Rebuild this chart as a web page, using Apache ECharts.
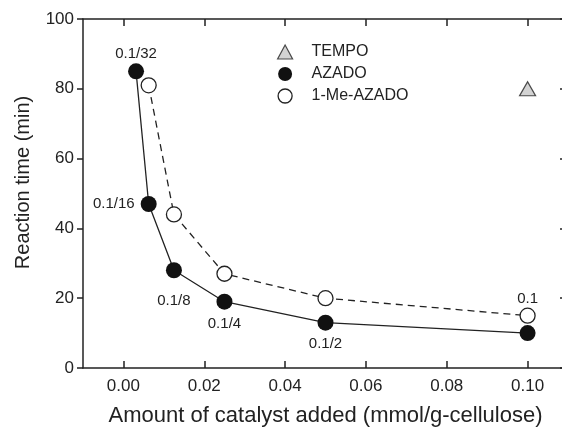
<!DOCTYPE html>
<html lang="en">
<head>
    <meta charset="UTF-8">
    <script src="https://cdn.jsdelivr.net/npm/echarts@6/dist/echarts.min.js"></script>
    <style>
        body { margin: 0; background: #fff; }
        #chart { width: 562px; height: 427px; }
    </style>
</head>
<body>
    <div id="chart"></div>
    <script>
        // data
        const azadoX = [0.003125, 0.00625, 0.0125, 0.025, 0.05, 0.1];
        const azadoY = [85, 47, 28, 19, 13, 10];
        const azadoLabels = ['0.1/32', '0.1/16', '0.1/8', '0.1/4', '0.1/2', ''];

        const meAzadoX = [0.00625, 0.0125, 0.025, 0.05, 0.1];
        const meAzadoY = [81, 44, 27, 20, 15];
        const meAzadoLabels = ['', '', '', '', '0.1'];

        const tempoX = [0.1];
        const tempoY = [80];

        const xTicks = [0, 0.02, 0.04, 0.06, 0.08, 0.10];

        const ink = '#222';
        const font = 'Liberation Sans, Arial, sans-serif';

        // where each label sits around its point
        const azadoLabelPos = ['top', 'left', 'bottom', 'bottom', 'bottom', 'top'];
        const azadoLabelDist = [2, 6, 15, 7, 6, 5];

        function points(xs, ys, labels, pos, dist) {
            return xs.map((x, i) => {
                const item = { value: [x, ys[i]] };
                if (labels && labels[i]) {
                    item.label = {
                        show: true,
                        formatter: labels[i],
                        position: pos ? pos[i] : 'top',
                        distance: dist ? dist[i] : 1
                    };
                }
                return item;
            });
        }

        const labelStyle = { color: ink, fontSize: 15, fontFamily: font };
        const axisLine = { show: true, onZero: false, lineStyle: { color: ink, width: 1.5 } };
        const tickLine = { color: ink, width: 1.5 };

        const chart = echarts.init(document.getElementById('chart'));

        chart.setOption({
            animation: false,
            textStyle: { fontFamily: font },
            grid: { left: 83, right: -6, top: 19, bottom: 59, containLabel: false, outerBoundsMode: 'none' },
            legend: {
                orient: 'vertical',
                left: 277,
                top: 44,
                padding: 0,
                itemWidth: 15,
                itemHeight: 14,
                itemGap: 6,
                textStyle: { color: ink, fontSize: 16, fontFamily: font, padding: [0, 0, 0, 14] },
                data: [
                    { name: 'TEMPO', icon: 'triangle', itemStyle: { color: '#c8c8c8', borderColor: ink, borderWidth: 1.2 } },
                    { name: 'AZADO', icon: 'circle', itemStyle: { color: '#111', borderColor: '#111', borderWidth: 0 } },
                    { name: '1-Me-AZADO', icon: 'circle', itemStyle: { color: '#fff', borderColor: ink, borderWidth: 1.3 } }
                ]
            },
            xAxis: [
                {
                    type: 'value',
                    min: -0.01,
                    max: 0.11,
                    position: 'bottom',
                    name: 'Amount of catalyst added (mmol/g-cellulose)',
                    nameLocation: 'middle',
                    nameGap: 37,
                    nameTextStyle: { color: ink, fontSize: 22, fontFamily: font },
                    axisLine: axisLine,
                    axisTick: { show: true, inside: true, length: 7, lineStyle: tickLine, customValues: xTicks },
                    axisLabel: {
                        color: ink, fontSize: 17, margin: 10, fontFamily: font,
                        customValues: xTicks,
                        formatter: v => v.toFixed(2)
                    },
                    splitLine: { show: false }
                },
                {
                    type: 'value',
                    min: -0.01,
                    max: 0.11,
                    position: 'top',
                    axisLine: axisLine,
                    axisTick: { show: true, inside: true, length: 7, lineStyle: tickLine, customValues: xTicks },
                    axisLabel: { show: false },
                    splitLine: { show: false }
                }
            ],
            yAxis: [
                {
                    type: 'value',
                    min: 0,
                    max: 100,
                    interval: 20,
                    position: 'left',
                    name: 'Reaction time (min)',
                    nameLocation: 'middle',
                    nameGap: 50,
                    nameTextStyle: { color: ink, fontSize: 20, fontFamily: font, padding: [0, 0, 0, 22] },
                    axisLine: axisLine,
                    axisTick: { show: true, inside: false, length: 6, lineStyle: tickLine },
                    axisLabel: { color: ink, fontSize: 17, margin: 9, fontFamily: font },
                    splitLine: { show: false }
                },
                {
                    type: 'value',
                    min: 0,
                    max: 100,
                    interval: 20,
                    position: 'right',
                    axisLine: axisLine,
                    axisTick: { show: true, inside: true, length: 8, lineStyle: tickLine },
                    axisLabel: { show: false },
                    splitLine: { show: false }
                }
            ],
            series: [
                {
                    name: 'TEMPO',
                    type: 'scatter',
                    symbol: 'triangle',
                    symbolSize: [16, 14],
                    itemStyle: { color: '#c8c8c8', borderColor: ink, borderWidth: 1.2 },
                    data: points(tempoX, tempoY),
                    z: 5
                },
                {
                    name: 'AZADO',
                    type: 'line',
                    symbol: 'circle',
                    symbolSize: 16,
                    showAllSymbol: true,
                    lineStyle: { color: ink, width: 1.3 },
                    itemStyle: { color: '#111', borderColor: '#111', borderWidth: 0 },
                    label: labelStyle,
                    data: points(azadoX, azadoY, azadoLabels, azadoLabelPos, azadoLabelDist),
                    z: 3
                },
                {
                    name: '1-Me-AZADO',
                    type: 'line',
                    symbol: 'circle',
                    symbolSize: 15,
                    showAllSymbol: true,
                    lineStyle: { color: ink, width: 1.3, type: [7, 5] },
                    itemStyle: { color: '#fff', borderColor: ink, borderWidth: 1.3 },
                    label: labelStyle,
                    data: points(meAzadoX, meAzadoY, meAzadoLabels),
                    z: 4
                }
            ]
        });
    </script>
</body>
</html>
